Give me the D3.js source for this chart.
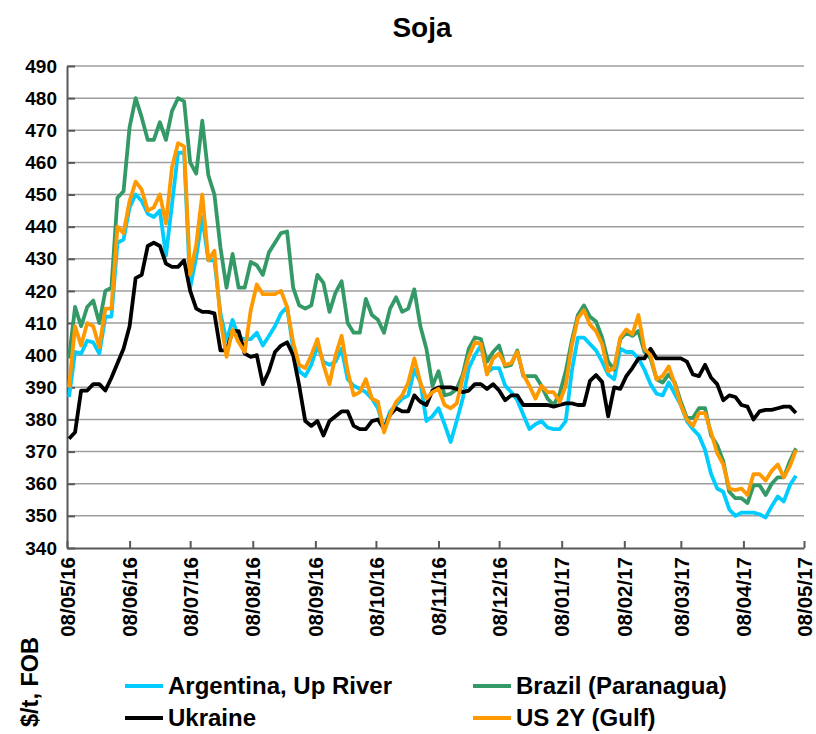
<!DOCTYPE html>
<html><head><meta charset="utf-8">
<script src="https://cdn.jsdelivr.net/npm/d3@7"></script>
<style>
html,body{margin:0;padding:0;background:#fff;}
svg{display:block;font-family:"Liberation Sans",Arial,sans-serif;}
</style></head>
<body>
<svg id="chart" width="816" height="734"></svg>
<script>
const dates = [
"2016-05-09","2016-05-12","2016-05-15","2016-05-18","2016-05-21","2016-05-24","2016-05-27","2016-05-30",
"2016-06-02","2016-06-05","2016-06-08","2016-06-11","2016-06-14","2016-06-17","2016-06-20","2016-06-23","2016-06-26","2016-06-29",
"2016-07-02","2016-07-05","2016-07-08","2016-07-11","2016-07-14","2016-07-17","2016-07-20","2016-07-23","2016-07-26","2016-07-29",
"2016-08-01","2016-08-04","2016-08-07","2016-08-10","2016-08-13","2016-08-16","2016-08-19","2016-08-22","2016-08-25","2016-08-28","2016-08-31",
"2016-09-03","2016-09-06","2016-09-09","2016-09-12","2016-09-15","2016-09-18","2016-09-21","2016-09-24","2016-09-27","2016-09-30",
"2016-10-03","2016-10-06","2016-10-09","2016-10-12","2016-10-15","2016-10-18","2016-10-21","2016-10-24","2016-10-27","2016-10-30",
"2016-11-02","2016-11-05","2016-11-08","2016-11-11","2016-11-14","2016-11-17","2016-11-20","2016-11-23","2016-11-26","2016-11-29",
"2016-12-02","2016-12-05","2016-12-08","2016-12-11","2016-12-14","2016-12-17","2016-12-20","2016-12-23","2016-12-26","2016-12-29",
"2017-01-01","2017-01-04","2017-01-07","2017-01-10","2017-01-13","2017-01-16","2017-01-19","2017-01-22","2017-01-25","2017-01-28","2017-01-31",
"2017-02-03","2017-02-06","2017-02-09","2017-02-12","2017-02-15","2017-02-18","2017-02-21","2017-02-24","2017-02-27",
"2017-03-02","2017-03-05","2017-03-08","2017-03-11","2017-03-14","2017-03-17","2017-03-20","2017-03-23","2017-03-26","2017-03-29",
"2017-04-01","2017-04-04","2017-04-07","2017-04-10","2017-04-13","2017-04-16","2017-04-19","2017-04-22","2017-04-25","2017-04-28",
"2017-05-01","2017-05-04"
];

const argentina = [
387,401,400.5,404.5,404,400.5,412,412,
435,436,446,450,448,444,443,445,431,447,
463,463,421,430.5,443,429.5,429.5,413,404.5,411,
405.5,405,405,407,403,406,409,413,415,402,395,
393.5,397,403,398,397,398,402,392.5,390.5,389.5,
388.5,386.5,383.5,377,382.5,384.5,386.5,387.5,395.5,391.5,
379.5,381,383.5,378.5,373,379.5,386.5,396,400,403,
394.5,396,396,390.5,388.5,386,381.5,377,378.5,379.5,
377.5,377,377,379.5,395,405.5,405.5,403.5,401.5,398,394,
392.5,402,401,401,399,395.5,391,388,387.5,
391.5,388,384.5,379.5,377,375,370.5,363,358.5,357.5,
352,350,351,351,351,350.5,349.5,353,356,354.5,
359.5,362.5
];

const brazil = [
399,415,409,415,417,410,420,421,
449,451,471,480,474,467,467,472.5,467,476,
480,479,460,456.5,473,456,450,433.5,421,431.5,
421,421,429,428,425,432,435,438,438.5,421,415.5,
414.5,415.5,425,422.5,413.5,419.5,423,410,407,407,
417.5,412.5,411,407,414.5,418,413.5,414.5,420.5,409,
402,390.5,395,387.5,388,389.5,394,402,405.5,405,
398,401,403,396.5,397,401.5,393.5,393.5,393.5,390.5,
386.5,384.5,388,395,404.5,412.5,415.5,412,410.5,405.5,398,
395.5,405,407,406,407.5,401,399,392.5,391.5,
394,391.5,385.5,380.5,380.5,383.5,383.5,375,372,367,
357.5,355.5,355.5,354,359.5,359.5,356.5,360,362,362,
367,371
];

const ukraine = [
374,376,389,389,391,391,389,393,
397.5,402,409,424,425,434,435,434,428.5,427.5,
427.5,429.5,420,414.5,413.5,413.5,413,401.5,401.5,407.5,
407.5,400.5,399.5,400,391,395,401,403,404,400,390.5,
379.5,378,379.5,375,379.5,381,382.5,382.5,378,377,
377,379.5,380,377,381.5,383.5,382.5,382.5,387.5,385.5,
384.5,389,390,390,390,389.5,388.5,389,391,391,
389.5,391,389,386,387.5,387.5,384.5,384.5,384.5,384.5,
384.5,384,384.5,385,385,384.5,384.5,392,393.8,391.7,381,
390,389.5,393.5,396,399,399,402,399,399,
399,399,399,398,394,393.5,397,393,391,386,
387.5,387,384.5,384,380,382.5,383,383,383.5,384,
384,382
];

const usGulf = [
390,409,403,410,409,402.5,414.5,414.5,
440,438,448,454,451.5,445,446,450,441,458.5,
466,465,425,434.5,450,429.5,432.5,411,399.5,408,
404,401,414,422,419,419,419,420,415,404,397,
396,400,405,397,391,400,406,395,387.5,388.5,
392.5,386.5,385.5,376,381.5,385.5,387.5,391.5,399,391.5,
386.5,388.5,389.5,384.5,383.5,385,393,399.5,404,403.5,
394,399,400.5,397,397.5,401,394,390.5,386.5,390.5,
388.5,388.5,385.5,390.5,403,411.5,414,409.5,407.5,403.5,395,
396,405.5,408,406.5,412.5,402,400,392.5,393.5,
396.5,391,384.5,380,378,382,382,376,369.5,366,
358.5,358,358.5,356.5,363,363,361,364,366,362,
365.5,370.5
];

const yTicks = [340,350,360,370,380,390,400,410,420,430,440,450,460,470,480,490];
const xTickDates = ["2016-05-08","2016-06-08","2016-07-08","2016-08-08","2016-09-08","2016-10-08","2016-11-08","2016-12-08","2017-01-08","2017-02-08","2017-03-08","2017-04-08","2017-05-08"];
const xTickLabels = ["08/05/16","08/06/16","08/07/16","08/08/16","08/09/16","08/10/16","08/11/16","08/12/16","08/01/17","08/02/17","08/03/17","08/04/17","08/05/17"];

const seriesNames = ["Argentina, Up River","Brazil (Paranagua)","Ukraine","US 2Y (Gulf)"];
const seriesColors = ["#00CCFF","#339966","#000000","#FF9900"];
const seriesValues = [argentina, brazil, ukraine, usGulf];

(function(){
const parse = d3.timeParse("%Y-%m-%d");
const svg = d3.select("#chart");

const pL = 67, pR = 804, pT = 66, pB = 548;
const x = d3.scaleTime().domain([parse(xTickDates[0]), parse(xTickDates[xTickDates.length-1])]).range([pL, pR]);
const y = d3.scaleLinear().domain([340, 490]).range([pB, pT]);

// title
svg.append("text").attr("x", 422).attr("y", 37).attr("text-anchor","middle")
  .style("font-size","28px").style("font-weight","bold").text("Soja");

// gridlines
svg.append("g").selectAll("line").data(yTicks.filter(t => t !== 340)).join("line")
  .attr("x1", pL).attr("x2", pR).attr("y1", d => y(d)).attr("y2", d => y(d))
  .attr("stroke","#9e9e9e").attr("stroke-width",1.5);

// y axis
const yAxis = d3.axisLeft(y).tickValues(yTicks).tickSizeInner(-8).tickSizeOuter(0).tickPadding(10);
const gy = svg.append("g").attr("transform",`translate(${pL},0)`).call(yAxis);
gy.select(".domain").attr("stroke","#595959").attr("stroke-width",2);
gy.selectAll(".tick line").attr("stroke","#595959").attr("stroke-width",2);
gy.selectAll(".tick text").style("font-size","19px").style("font-weight","bold").attr("fill","#000")
  .style("font-family","Liberation Sans, Arial, sans-serif");

// x axis
const xAxis = d3.axisBottom(x).tickValues(xTickDates.map(parse))
  .tickFormat((d,i) => xTickLabels[i]).tickSizeInner(-7).tickSizeOuter(0).tickPadding(0);
const gx = svg.append("g").attr("transform",`translate(0,${pB})`).call(xAxis);
gx.select(".domain").attr("stroke","#595959").attr("stroke-width",2);
gx.selectAll(".tick line").attr("stroke","#595959").attr("stroke-width",2);
gx.selectAll(".tick text").style("font-size","20.5px").style("font-weight","bold").attr("fill","#000")
  .style("font-family","Liberation Sans, Arial, sans-serif")
  .attr("text-anchor","end").attr("transform","translate(0,9) rotate(-90)")
  .attr("x",0).attr("y",0).attr("dy","0.35em");

// lines
const line = d3.line().x((d,i) => x(parse(dates[i]))).y(d => y(d));
seriesValues.forEach((vals, k) => {
  svg.append("path").datum(vals).attr("d", line)
    .attr("fill","none").attr("stroke", seriesColors[k]).attr("stroke-width",3.8)
    .attr("stroke-linejoin","round");
});

// y axis title
svg.append("text").attr("transform","translate(38,682) rotate(-90)").attr("text-anchor","middle")
  .style("font-size","23.5px").style("font-weight","bold").text("$/t, FOB");

// legend
const legPos = [[125,686],[473,686],[125,718],[473,718]];
seriesNames.forEach((name,k) => {
  const [lx, ly] = legPos[k];
  svg.append("line").attr("x1",lx).attr("x2",lx+38).attr("y1",ly).attr("y2",ly)
    .attr("stroke",seriesColors[k]).attr("stroke-width",4);
  svg.append("text").attr("x",lx+43).attr("y",ly).attr("dy","0.35em")
    .style("font-size","24px").style("font-weight","bold").text(name);
});
})();
</script>
</body></html>
